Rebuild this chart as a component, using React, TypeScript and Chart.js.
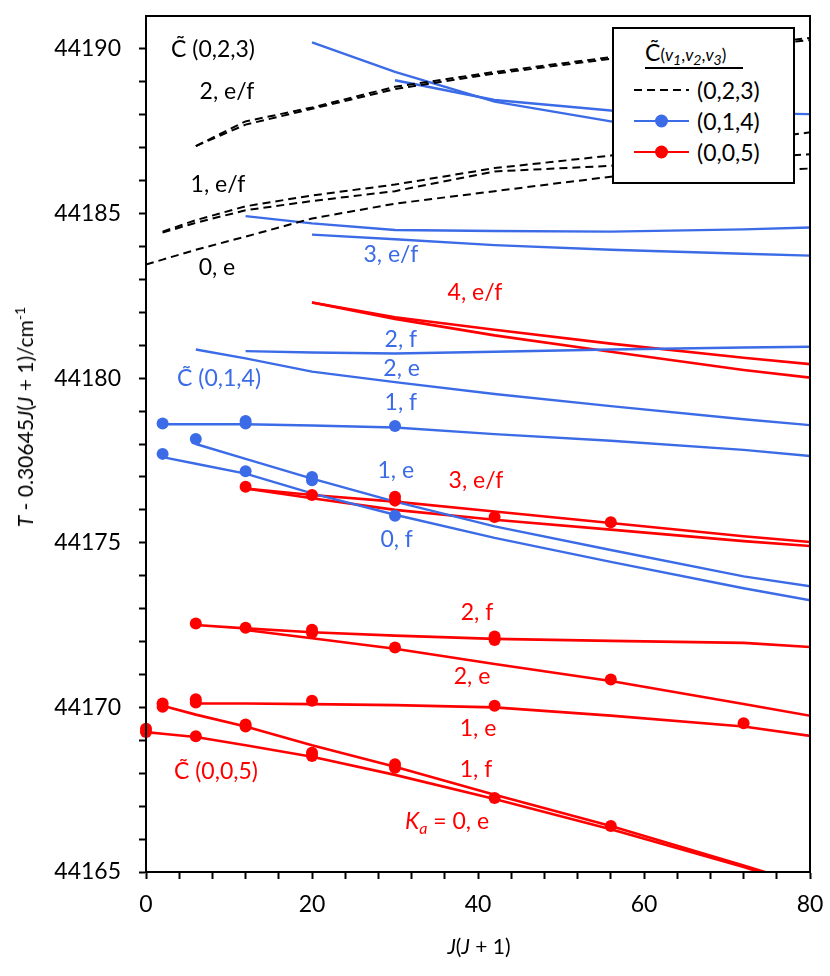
import { useEffect, useRef } from "react"
import { Chart, registerables } from "chart.js"
import type { Plugin } from "chart.js"

Chart.register(...registerables)

const FONT = "Lato, 'Open Sans', sans-serif"
const BLUE = "#3B6BE6"
const RED = "#FF0000"

// J(J+1) for J = 0..9
const jj = [0, 2, 6, 12, 20, 30, 42, 56, 72, 90]

// C (0,2,3) calculated levels, each list starts at the J(J+1) given in curve()
const c023K2a = [44187.05, 44187.8, 44188.22, 44188.85, 44189.3, 44189.75, 44190.12, 44190.6]
const c023K2b = [44187.05, 44187.7, 44188.18, 44188.78, 44189.25, 44189.7, 44190.08, 44190.5]
const c023K1a = [44184.45, 44184.8, 44185.22, 44185.55, 44185.88, 44186.38, 44186.76, 44187.2, 44187.8]
const c023K1b = [44184.42, 44184.72, 44185.1, 44185.38, 44185.68, 44186.28, 44186.45, 44186.68, 44186.95]
const c023K0e = [44183.45, 44183.6, 44183.9, 44184.3, 44184.85, 44185.3, 44185.68, 44186.12, 44186.3, 44186.45]

// C (0,1,4)
const c014K4a = [44190.2, 44189.3, 44188.4, 44187.8, 44187.2]
const c014K4b = [44189.05, 44188.45, 44188.13, 44188.05, 44187.98]
const c014K3a = [44184.92, 44184.7, 44184.5, 44184.47, 44184.45, 44184.52, 44184.65]
const c014K3b = [44184.36, 44184.22, 44184.04, 44183.9, 44183.78, 44183.65]
const c014K2f = [44180.82, 44180.78, 44180.75, 44180.8, 44180.87, 44180.93, 44180.98]
const c014K2e = [44180.87, 44180.6, 44180.2, 44179.88, 44179.52, 44179.15, 44178.75, 44178.35]
const c014K1f = [44178.6, 44178.6, 44178.6, 44178.56, 44178.5, 44178.3, 44178.1, 44177.82, 44177.4]
const c014K1e = [44178.0, 44177.55, 44176.95, 44176.25, 44175.5, 44174.78, 44173.98, 44173.3]
const c014K0f = [44177.6, 44177.4, 44177.1, 44176.5, 44175.85, 44175.15, 44174.42, 44173.62, 44172.8]

// C (0,0,5)
const c005K4a = [44182.3, 44181.85, 44181.47, 44181.05, 44180.62, 44180.18]
const c005K4b = [44182.3, 44181.8, 44181.3, 44180.8, 44180.25, 44179.72]
const c005K3a = [44176.65, 44176.45, 44176.25, 44175.95, 44175.6, 44175.2, 44174.8]
const c005K3b = [44176.65, 44176.35, 44176.0, 44175.7, 44175.4, 44175.05, 44174.72]
const c005K2f = [44172.5, 44172.4, 44172.28, 44172.18, 44172.08, 44172.02, 44171.96, 44171.68]
const c005K2e = [44172.35, 44172.1, 44171.78, 44171.32, 44170.8, 44170.1, 44169.3]
const c005K1e = [44170.12, 44170.12, 44170.1, 44170.07, 44170.0, 44169.75, 44169.42, 44168.78]
const c005K1f = [44170.05, 44169.78, 44169.42, 44168.85, 44168.2, 44167.35, 44166.4, 44165.2, 44163.8]
const c005K0e = [44169.25, 44169.2, 44169.1, 44168.85, 44168.5, 44167.95, 44167.22, 44166.3, 44165.15, 44163.75]

// observed levels
const obs014X = [2, 12, 12, 30, 6, 20, 20, 2, 12, 30]
const obs014Y = [44178.62, 44178.7, 44178.62, 44178.55, 44178.15, 44177.0, 44176.9, 44177.7, 44177.17, 44175.82]
const obs005X = [
  12, 20, 30, 30, 42, 56,
  6, 12, 20, 20, 42, 42,
  30, 56,
  6, 6, 20, 42, 72,
  2, 2, 12, 12, 30, 30, 42, 56,
  0, 0, 6, 20, 20,
]
const obs005Y = [
  44176.7, 44176.45, 44176.4, 44176.28, 44175.78, 44175.62,
  44172.55, 44172.42, 44172.36, 44172.27, 44172.15, 44172.05,
  44171.82, 44170.85,
  44170.25, 44170.15, 44170.2, 44170.05, 44169.52,
  44170.12, 44170.02, 44169.48, 44169.42, 44168.27, 44168.17, 44167.25, 44166.4,
  44169.35, 44169.25, 44169.12, 44168.62, 44168.52,
]

// in-plot labels: [text, italic, subscript] parts
type Part = [string, boolean, boolean]
const labelParts: Part[][] = [
  [["C\u0303 (0,2,3)", false, false]],
  [["2, e/f", false, false]],
  [["1, e/f", false, false]],
  [["0, e", false, false]],
  [["3, e/f", false, false]],
  [["2, f", false, false]],
  [["2, e", false, false]],
  [["C\u0303 (0,1,4)", false, false]],
  [["1, f", false, false]],
  [["1, e", false, false]],
  [["0, f", false, false]],
  [["4, e/f", false, false]],
  [["3, e/f", false, false]],
  [["2, f", false, false]],
  [["2, e", false, false]],
  [["1, e", false, false]],
  [["1, f", false, false]],
  [["K", true, false], ["a", true, true], [" = 0, e", false, false]],
  [["C\u0303 (0,0,5)", false, false]],
]
const labelX = [8.07, 9.76, 8.67, 8.55, 29.5, 30.7, 30.8, 8.8, 30.7, 30.1, 30.2, 39.64, 39.76, 39.88, 39.28, 40.0, 39.76, 36.27, 8.43]
const labelY = [
  44189.98, 44188.7, 44185.88, 44183.35,
  44183.75, 44181.17, 44180.28, 44179.98, 44179.25, 44177.18, 44175.11,
  44182.59, 44176.88, 44172.87, 44170.93, 44169.35, 44168.1, 44166.52, 44168.04,
]
const labelColor = [
  "#000", "#000", "#000", "#000",
  BLUE, BLUE, BLUE, BLUE, BLUE, BLUE, BLUE,
  RED, RED, RED, RED, RED, RED, RED, RED,
]

function curve(start: number, ys: number[]) {
  const i0 = jj.indexOf(start)
  return ys.map((y, i) => ({ x: jj[i0 + i], y }))
}

function points(xs: number[], ys: number[]) {
  return xs.map((x, i) => ({ x, y: ys[i] }))
}

const labelsPlugin: Plugin = {
  id: "levelLabels",
  afterDatasetsDraw(chart) {
    const { ctx, scales } = chart
    ctx.save()
    ctx.textBaseline = "middle"
    ctx.textAlign = "left"
    labelParts.forEach((parts, i) => {
      const px = scales.x.getPixelForValue(labelX[i])
      const py = scales.y.getPixelForValue(labelY[i])
      const fontOf = (p: Part) => `${p[1] ? "italic " : ""}${p[2] ? 16 : 23}px ${FONT}`
      let total = 0
      parts.forEach((p) => {
        ctx.font = fontOf(p)
        total += ctx.measureText(p[0]).width
      })
      let x = px - total / 2
      ctx.fillStyle = labelColor[i]
      parts.forEach((p) => {
        ctx.font = fontOf(p)
        ctx.fillText(p[0], x, p[2] ? py + 7 : py)
        x += ctx.measureText(p[0]).width
      })
    })
    ctx.restore()
  },
  afterDraw(chart) {
    const { ctx, chartArea } = chart
    ctx.save()
    ctx.strokeStyle = "#000"
    ctx.lineWidth = 2
    ctx.strokeRect(chartArea.left, chartArea.top, chartArea.right - chartArea.left, chartArea.bottom - chartArea.top)
    ctx.restore()
  },
}

function lineSet(data: { x: number; y: number }[], color: string, dashed = false) {
  return {
    data,
    showLine: true,
    borderColor: color,
    backgroundColor: color,
    borderWidth: dashed ? 2 : color === RED ? 2.6 : 2.4,
    borderDash: dashed ? [8, 5] : [],
    pointRadius: 0,
    pointHoverRadius: 0,
    tension: 0,
  }
}

export default function App() {
  const chartRef = useRef<HTMLCanvasElement>(null)
  const chartInstance = useRef<Chart | null>(null)

  useEffect(() => {
    if (!chartRef.current) return
    if (chartInstance.current) chartInstance.current.destroy()

    const ctx = chartRef.current.getContext("2d")
    if (!ctx) return

    chartInstance.current = new Chart(ctx, {
      type: "scatter",
      data: {
        datasets: [
          {
            data: points(obs014X, obs014Y),
            pointRadius: 6,
            pointBackgroundColor: BLUE,
            pointBorderWidth: 0,
            clip: false,
          },
          {
            data: points(obs005X, obs005Y),
            pointRadius: 6,
            pointBackgroundColor: RED,
            pointBorderWidth: 0,
            clip: false,
          },
          lineSet(curve(6, c023K2a), "#000", true),
          lineSet(curve(6, c023K2b), "#000", true),
          lineSet(curve(2, c023K1a), "#000", true),
          lineSet(curve(2, c023K1b), "#000", true),
          lineSet(curve(0, c023K0e), "#000", true),
          lineSet(curve(20, c014K4a), BLUE),
          lineSet(curve(30, c014K4b), BLUE),
          lineSet(curve(12, c014K3a), BLUE),
          lineSet(curve(20, c014K3b), BLUE),
          lineSet(curve(12, c014K2f), BLUE),
          lineSet(curve(6, c014K2e), BLUE),
          lineSet(curve(2, c014K1f), BLUE),
          lineSet(curve(6, c014K1e), BLUE),
          lineSet(curve(2, c014K0f), BLUE),
          lineSet(curve(20, c005K4a), RED),
          lineSet(curve(20, c005K4b), RED),
          lineSet(curve(12, c005K3a), RED),
          lineSet(curve(12, c005K3b), RED),
          lineSet(curve(6, c005K2f), RED),
          lineSet(curve(12, c005K2e), RED),
          lineSet(curve(6, c005K1e), RED),
          lineSet(curve(2, c005K1f), RED),
          lineSet(curve(0, c005K0e), RED),
        ],
      },
      options: {
        animation: false,
        responsive: true,
        maintainAspectRatio: false,
        layout: { padding: { top: 16, right: 20, left: 0, bottom: 0 } },
        scales: {
          x: {
            type: "linear",
            min: 0,
            max: 80,
            afterFit: (scale) => {
              scale.height = 104
              scale.paddingLeft = 0
              scale.paddingRight = 0
            },
            border: { display: true, color: "#000", width: 2 },
            grid: { drawOnChartArea: false, drawTicks: true, tickLength: 7, tickColor: "#000", tickWidth: 2 },
            ticks: {
              stepSize: 4,
              autoSkip: false,
              maxRotation: 0,
              padding: 12,
              color: "#000",
              font: { family: FONT, size: 23 },
              callback: (v) => (Number(v) % 20 === 0 ? String(v) : ""),
            },
          },
          y: {
            type: "linear",
            min: 44165,
            max: 44191,
            afterFit: (scale) => {
              scale.width = 146
              scale.paddingTop = 0
              scale.paddingBottom = 0
            },
            border: { display: true, color: "#000", width: 2 },
            grid: {
              drawOnChartArea: false,
              drawTicks: true,
              tickLength: 7,
              tickWidth: 2,
              tickColor: (c) => (c.tick && c.tick.value === 44191 ? "rgba(0,0,0,0)" : "#000"),
            },
            ticks: {
              stepSize: 1,
              autoSkip: false,
              padding: 18,
              color: "#000",
              font: { family: FONT, size: 23 },
              callback: (v) => (Number(v) % 5 === 0 ? String(v) : ""),
            },
          },
        },
        plugins: {
          legend: { display: false },
          tooltip: { enabled: false },
        },
      },
      plugins: [labelsPlugin],
    })

    return () => {
      if (chartInstance.current) {
        chartInstance.current.destroy()
        chartInstance.current = null
      }
    }
  }, [])

  const rowText = { position: "absolute" as const, left: 83, fontSize: 23, lineHeight: "22px" }

  return (
    <div style={{ position: "absolute", left: 0, top: 0, width: 830, height: 976, fontFamily: FONT, color: "#000" }}>
      <canvas ref={chartRef} />

      {/* axis titles */}
      <div
        style={{
          position: "absolute",
          left: 24,
          top: 417,
          transform: "translate(-50%, -50%) rotate(-90deg)",
          whiteSpace: "nowrap",
          fontSize: 21,
        }}
      >
        <i>T</i> - 0.30645<i>J</i>(<i>J</i> + 1)/cm<sup style={{ fontSize: 14 }}>-1</sup>
      </div>
      <div
        style={{
          position: "absolute",
          left: 479,
          top: 945,
          transform: "translate(-50%, -50%)",
          whiteSpace: "nowrap",
          fontSize: 21,
        }}
      >
        <i>J</i>(<i>J</i> + 1)
      </div>

      {/* legend */}
      <div
        style={{
          position: "absolute",
          left: 612,
          top: 27,
          width: 183,
          height: 157,
          boxSizing: "border-box",
          border: "2px solid #000",
          background: "#fff",
        }}
      >
        <div style={{ position: "absolute", left: 31, top: 9, fontSize: 23, whiteSpace: "nowrap" }}>
          C&#x303;
          <span style={{ fontSize: 17 }}>
            (<i>v</i>
            <sub><i>1</i></sub>,<i>v</i>
            <sub><i>2</i></sub>,<i>v</i>
            <sub><i>3</i></sub>)
          </span>
        </div>
        <div style={{ position: "absolute", left: 31, top: 38, width: 98, height: 2, background: "#000" }} />
        <svg style={{ position: "absolute", left: 0, top: 0 }} width={179} height={153}>
          <line x1={20} y1={61} x2={75} y2={61} stroke="#000" strokeWidth={2} strokeDasharray="8 5" />
          <line x1={20} y1={92} x2={75} y2={92} stroke={BLUE} strokeWidth={2} />
          <circle cx={47.5} cy={92} r={6.5} fill={BLUE} />
          <line x1={20} y1={123} x2={75} y2={123} stroke={RED} strokeWidth={2} />
          <circle cx={47.5} cy={123} r={6.5} fill={RED} />
        </svg>
        <div style={{ ...rowText, top: 50 }}>(0,2,3)</div>
        <div style={{ ...rowText, top: 81 }}>(0,1,4)</div>
        <div style={{ ...rowText, top: 112 }}>(0,0,5)</div>
      </div>
    </div>
  )
}
